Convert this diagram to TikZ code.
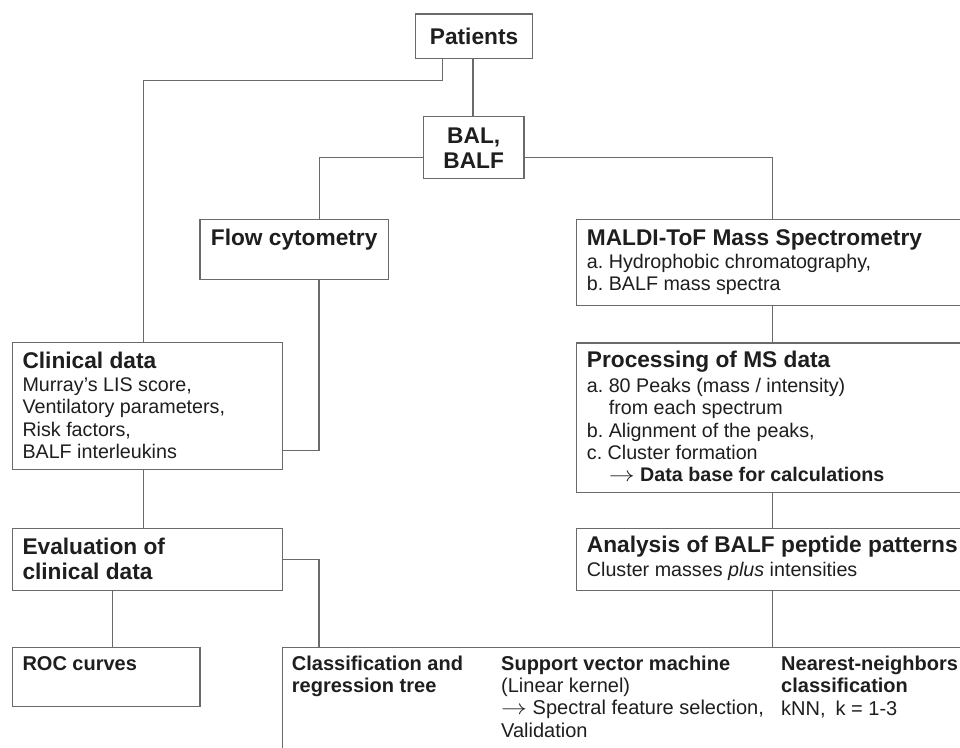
\documentclass[tikz,border=0pt]{standalone}
\usepackage{fontspec}
\usepackage{graphicx}
\setmainfont{Liberation Sans}
\frenchspacing
\definecolor{ln}{HTML}{6A6A6A}
\definecolor{tx}{HTML}{1E1E1E}
\newcommand{\ttl}{\fontsize{22.7}{25}\selectfont\bfseries}
\newcommand{\bdy}{\fontsize{19.7}{22.2}\selectfont}
\newcommand{\sml}{\fontsize{20}{22.4}\selectfont}
\newcommand{\ml}[1]{\vtop{\halign{##\hfil\cr#1\crcr}}}
\newcommand{\arr}{\scalebox{1.25}[1]{$\rightarrow$}}
\begin{document}
\begin{tikzpicture}[x=1pt,y=-1pt,
  box/.style={draw=ln,line width=1.4pt,inner sep=0pt,anchor=north west},
  conn/.style={draw=ln,line width=1.4pt},
  lbl/.style={text=tx,inner sep=0pt,anchor=base west}]
\useasboundingbox[fill=white] (0,0) rectangle (960,747);
\clip (0,0) rectangle (960,747);
% boxes
\node[box,minimum width=116.7pt,minimum height=44.7pt] (pat) at (415,13.3) {};
\node[box,minimum width=100.6pt,minimum height=62pt] (bal) at (422.7,116) {};
\node[box,minimum width=188.7pt,minimum height=59.7pt] (flow) at (199.3,219) {};
\node[box,minimum width=270.3pt,minimum height=127.3pt] (clin) at (11.7,341.7) {};
\node[box,minimum width=270.3pt,minimum height=62pt] (eval) at (11.7,527.7) {};
\node[box,minimum width=187.6pt,minimum height=59.3pt] (roc) at (11.7,646.7) {};
\node[box,minimum width=424.3pt,minimum height=86pt] (maldi) at (575.7,219) {};
\node[box,minimum width=424.3pt,minimum height=149.4pt] (proc) at (575.7,342.3) {};
\node[box,minimum width=424.3pt,minimum height=62.3pt] (ana) at (575.7,527.7) {};
\node[box,minimum width=718.3pt,minimum height=160pt] (bot) at (281.7,646.7) {};
% junction
\coordinate (j1) at (143.5,80.3);
% connectors
\draw[conn] ([xshift=27.7]pat.south west) |- (j1) -- (j1 |- clin.north);
\draw[conn] ([xshift=58]pat.south west) -- ([xshift=58]pat.south west |- bal.north);
\draw[conn] ([yshift=-10]bal.west) -| ([xshift=25.3]flow.north);
\draw[conn] ([yshift=-10]bal.east) -| ([xshift=196.6]maldi.north west);
\draw[conn] ([xshift=24.7]flow.south) |- ([yshift=-44.6]clin.east);
\draw[conn] (j1 |- clin.south) -- (j1 |- eval.north);
\draw[conn] (eval.east) -| ([xshift=37.3]bot.north west);
\draw[conn] ([xshift=101]eval.south west) -- ([xshift=101]roc.north west);
\draw[conn] ([xshift=196.6]maldi.south west) -- ([xshift=196.6]proc.north west);
\draw[conn] ([xshift=196.6]proc.south west) -- ([xshift=196.6]ana.north west);
\draw[conn] ([xshift=196.6]ana.south west) -- ([xshift=196.6]ana.south west |- bot.north);
% texts
\node[text=tx,inner sep=0pt,font=\ttl] (tpat) at (pat.center) {Patients};
\node[text=tx,inner sep=0pt,font=\ttl,align=center] (tbal) at (bal.center) {BAL,\\BALF};
\node[lbl,font=\ttl] (tflow) at (210.7,245) {Flow cytometry};
\node[lbl,font=\ttl] (tclin) at (22.3,368) {Clinical data};
\node[lbl,font=\bdy] (bclin) at (22.3,391.7) {\ml{Murray’s LIS score,\cr Ventilatory parameters,\cr Risk factors,\cr BALF interleukins}};
\node[lbl,font=\ttl] (teval) at (22.3,554.3) {\ml{Evaluation of\cr clinical data}};
\node[lbl,font=\sml\bfseries] (troc) at (22.3,670) {ROC curves};
\node[lbl,font=\sml\bfseries] (tcart) at (291.7,670) {\ml{Classification and\cr regression tree}};
\node[lbl,font=\sml\bfseries] (tsvm) at (501,670) {Support vector machine};
\node[lbl,font=\sml] (bsvm) at (501,692.3) {\ml{(Linear kernel)\cr \arr\ Spectral feature selection,\cr Validation}};
\node[lbl,font=\sml\bfseries] (tknn) at (781,670) {\ml{Nearest-neighbors\cr classification}};
\node[lbl,font=\sml] (bknn) at (781,715) {kNN,\enspace k = 1-3};
\node[lbl,font=\ttl] (tmaldi) at (586.7,245) {MALDI-ToF Mass Spectrometry};
\node[lbl,font=\bdy] (bmaldi) at (586.7,268) {\ml{a. Hydrophobic chromatography,\cr b. BALF mass spectra}};
\node[lbl,font=\ttl] (tproc) at (586.7,367.7) {Processing of MS data};
\node[lbl,font=\bdy] (bproc) at (586.7,392.7) {\ml{a. 80 Peaks (mass / intensity)\cr \phantom{a. }from each spectrum\cr b. Alignment of the peaks,\cr c. Cluster formation\cr \phantom{a. }\arr\ \textbf{Data base for calculations}}};
\node[lbl,font=\ttl] (tana) at (586.7,552) {Analysis of BALF peptide patterns};
\node[lbl,font=\bdy] (bana) at (586.7,576.7) {Cluster masses \textit{plus} intensities};
\end{tikzpicture}
\end{document}
